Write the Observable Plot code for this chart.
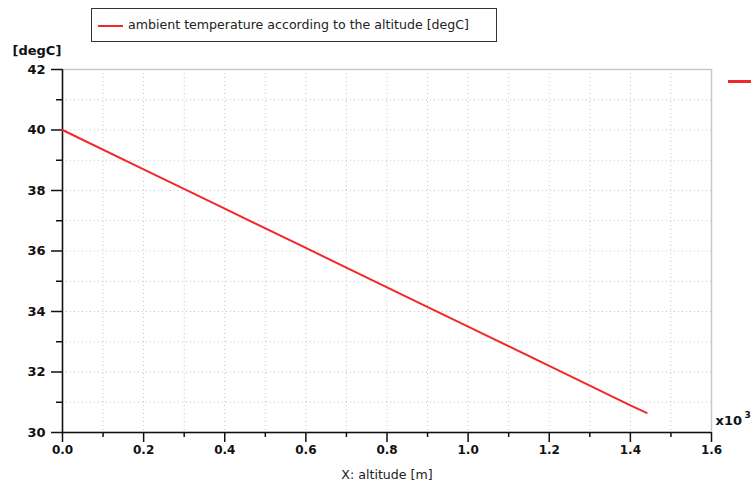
<!DOCTYPE html>
<html>
<head>
<meta charset="utf-8">
<script src="https://cdn.jsdelivr.net/npm/d3@7"></script>
<script src="https://cdn.jsdelivr.net/npm/@observablehq/plot@0.6"></script>
<style>
  body { margin: 0; background: #fff; font-family: "DejaVu Sans", sans-serif; }
  #wrap { position: relative; width: 751px; height: 488px; }
  #legend { position: absolute; left: 91px; top: 8px; width: 404px; height: 32px; border: 1px solid #333; background: #fff; box-sizing: content-box; }
  #legend .sw { position: absolute; left: 6px; top: 16px; width: 25px; height: 2px; background: #f0282a; }
  #legend .lb { position: absolute; left: 36px; top: 8px; font-size: 12.6px; color: #222; white-space: nowrap; }
  #rmark { position: absolute; left: 728px; top: 80px; width: 23px; height: 3px; background: #f0282a; }
</style>
</head>
<body>
<div id="wrap">
  <div id="chart"></div>
  <div id="legend"><div class="sw"></div><div class="lb">ambient temperature according to the altitude [degC]</div></div>
  <div id="rmark"></div>
</div>
<script>
// altitude in units of 10^3 m
const altitude = [0, 0.2, 0.4, 0.6, 0.8, 1.0, 1.2, 1.4, 1.44];
// ambient temperature [degC]
const temperature = [40, 38.7, 37.4, 36.1, 34.8, 33.5, 32.2, 30.9, 30.65];
const xMajorTicks = [0, 0.2, 0.4, 0.6, 0.8, 1.0, 1.2, 1.4, 1.6];
const xMinorTicks = [0.1, 0.3, 0.5, 0.7, 0.9, 1.1, 1.3, 1.5];
const yMajorTicks = [30, 32, 34, 36, 38, 40, 42];
const yMinorTicks = [31, 33, 35, 37, 39, 41];
const seriesName = "ambient temperature according to the altitude [degC]";

const data = altitude.map((a, i) => ({altitude: a, temperature: temperature[i]}));
const xGrid = xMajorTicks.concat(xMinorTicks);
const yGrid = yMajorTicks.concat(yMinorTicks);

const chart = Plot.plot({
  width: 751,
  height: 488,
  marginLeft: 62,
  marginRight: 40,
  marginTop: 69,
  marginBottom: 56,
  style: {fontFamily: "'DejaVu Sans', sans-serif", fontSize: "13px", color: "#111", background: "#fff"},
  x: {domain: [0, 1.6]},
  y: {domain: [30, 42]},
  marks: [
    Plot.gridX(xGrid, {stroke: "#c4c4c4", strokeOpacity: 1, strokeDasharray: "1,3"}),
    Plot.gridY(yGrid, {stroke: "#c4c4c4", strokeOpacity: 1, strokeDasharray: "1,3"}),
    Plot.frame({stroke: "#c8c8c8", strokeWidth: 1.5}),
    Plot.axisX(xMajorTicks, {tickSize: 10, tickPadding: 3, tickFormat: d3.format(".1f"), fontWeight: "bold", fontSize: 12, stroke: "#111", strokeWidth: 1.5, label: null}),
    Plot.axisX(xMinorTicks, {tickSize: 5, tickFormat: () => "", stroke: "#111", strokeWidth: 1.5, label: null}),
    Plot.axisY(yMajorTicks, {tickSize: 11, tickPadding: 6, fontWeight: "bold", fontSize: 13, stroke: "#111", strokeWidth: 1.5, label: null}),
    Plot.axisY(yMinorTicks, {tickSize: 6, tickFormat: () => "", stroke: "#111", strokeWidth: 1.5, label: null}),
    Plot.ruleX([0], {stroke: "#111", strokeWidth: 1.5}),
    Plot.ruleY([30], {stroke: "#111", strokeWidth: 1.5}),
    Plot.line(data, {x: "altitude", y: "temperature", stroke: "#f0282a", strokeWidth: 2, title: () => seriesName}),
    Plot.text(["[degC]"], {frameAnchor: "top-left", dx: -50, dy: -24, textAnchor: "start", fontWeight: "bold", fontSize: 13}),
    Plot.text(["x10"], {frameAnchor: "bottom-right", dx: 4, dy: -8, textAnchor: "start", fontWeight: "bold", fontSize: 13}),
    Plot.text(["3"], {frameAnchor: "bottom-right", dx: 33, dy: -15, textAnchor: "start", fontWeight: "bold", fontSize: 9}),
    Plot.text(["X: altitude [m]"], {frameAnchor: "bottom", dy: 46, fontSize: 12.6, fill: "#222"})
  ]
});
document.getElementById("chart").appendChild(chart);
</script>
</body>
</html>
